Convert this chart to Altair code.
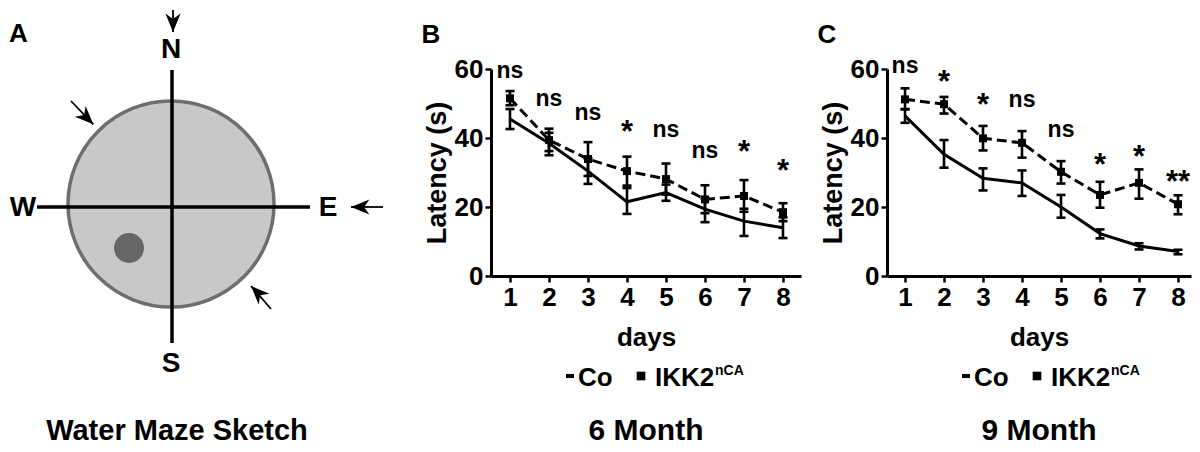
import altair as alt
import pandas as pd

FONT = "Liberation Sans"

# ---------------- data ----------------
days = [1, 2, 3, 4, 5, 6, 7, 8]

# 6 Month
co_6 = [45.5, 38.5, 30.4, 21.5, 24.2, 19.4, 15.9, 14.0]
co_6_lo = [42.6, 35.0, 26.7, 18.0, 21.8, 15.6, 11.6, 11.0]
co_6_hi = [48.4, 41.5, 34.1, 25.5, 26.5, 22.5, 19.5, 17.0]
ikk_6 = [51.5, 39.4, 33.9, 30.4, 28.1, 22.2, 23.2, 18.5]
ikk_6_lo = [49.5, 36.2, 29.0, 26.2, 23.6, 18.2, 18.6, 15.9]
ikk_6_hi = [53.6, 42.7, 38.8, 34.6, 32.6, 26.3, 27.8, 21.1]
sig_6 = ["ns", "ns", "ns", "*", "ns", "ns", "*", "*"]
sig_6_y = [59.4, 51.3, 47.2, 43.8, 42.3, 36.2, 38.0, 32.5]

# 9 Month
co_9 = [46.4, 35.3, 28.3, 27.0, 20.0, 12.3, 8.7, 7.1]
co_9_lo = [44.4, 31.4, 24.8, 23.2, 16.9, 10.9, 7.7, 6.3]
co_9_hi = [48.4, 39.4, 31.2, 30.6, 23.5, 13.5, 9.5, 7.6]
ikk_9 = [51.2, 49.8, 39.9, 38.6, 30.2, 23.5, 27.0, 20.8]
ikk_9_lo = [48.3, 47.1, 36.4, 34.3, 26.8, 19.8, 22.4, 17.9]
ikk_9_hi = [54.4, 51.9, 43.5, 42.0, 33.3, 27.3, 30.9, 23.4]
sig_9 = ["ns", "*", "*", "ns", "ns", "*", "*", "**"]
sig_9_y = [60.9, 58.3, 51.6, 51.0, 42.3, 34.2, 36.5, 29.3]

y_ticks = [0, 20, 40, 60]
series_names = ["Co", "IKK2"]
legend_super = "nCA"

# Water maze sketch (units: pool radius ~ 1)
compass_labels = ["N", "S", "W", "E"]
compass_x = [-0.01, -0.01, -1.49, 1.56]
compass_y = [1.58, -1.56, 0.0, 0.0]
cross_x = [0.0, -1.35]
cross_x2 = [0.0, 1.38]
cross_y = [1.37, 0.0]
cross_y2 = [-1.36, 0.0]
arrow_tail_x = [0.01, -1.01, 2.11, 0.99]
arrow_tail_y = [1.97, 1.06, 0.0, -1.02]
arrow_tip_x = [0.01, -0.787, 1.79, 0.79]
arrow_tip_y = [1.75, 0.827, 0.0, -0.79]
arrow_angle = [180, 135, 270, 315]
pool_x = [-0.01]
pool_y = [0.03]
platform_x = [-0.43]
platform_y = [-0.41]

# ---------------- layout constants ----------------
PLOT_H = 267     # view height of B / C (x axis at bottom)
Y_TOP = 60       # pixel where y=60 sits
TITLE_Y = 431    # baseline of the bottom titles (view pixels)
TXT = dict(font=FONT, fontWeight="bold", color="black")


def one(label):
    return alt.Chart(pd.DataFrame({"label": [label]}))


def panel(co, co_lo, co_hi, ik, ik_lo, ik_hi, sig, sig_y, letter, title, dmin, dmax, width):
    df = pd.DataFrame({
        "day": days * 2,
        "series": [series_names[0]] * 8 + [series_names[1]] * 8,
        "mean": co + ik,
        "lo": co_lo + ik_lo,
        "hi": co_hi + ik_hi,
    })
    ann = pd.DataFrame({"day": days, "label": sig, "y": sig_y})

    xs = alt.Scale(domain=[dmin, dmax], nice=False, zero=False)
    ys = alt.Scale(domain=[0, 60], range=[PLOT_H, Y_TOP], nice=False, zero=False)
    xa = alt.Axis(values=days, format="d", title="days", labelPadding=2, titlePadding=14,
                  labelFontSize=26, titleFontSize=26, labelFlush=False)
    ya = alt.Axis(values=y_ticks, format="d", title="Latency (s)", labelPadding=2, titlePadding=3,
                  labelFontSize=26, titleFontSize=27)

    def X(f="day:Q"):
        return alt.X(f, scale=xs, axis=xa)

    def Y(f):
        return alt.Y(f, scale=ys, axis=ya)

    base = alt.Chart(df)
    err = base.mark_rule(color="black", strokeWidth=2.6).encode(x=X(), y=Y("lo:Q"), y2="hi:Q")
    cap_lo = base.mark_rule(color="black", strokeWidth=2.6, xOffset=-4.5, x2Offset=4.5).encode(
        x=X(), x2="day:Q", y=Y("lo:Q"))
    cap_hi = base.mark_rule(color="black", strokeWidth=2.6, xOffset=-4.5, x2Offset=4.5).encode(
        x=X(), x2="day:Q", y=Y("hi:Q"))
    line_co = base.transform_filter(alt.datum.series == "Co").mark_line(
        color="black", strokeWidth=3).encode(x=X(), y=Y("mean:Q"))
    line_ik = base.transform_filter(alt.datum.series == "IKK2").mark_line(
        color="black", strokeWidth=3, strokeDash=[10, 5]).encode(x=X(), y=Y("mean:Q"))
    sq = base.transform_filter(alt.datum.series == "IKK2").mark_point(
        shape="square", filled=True, size=64, color="black", opacity=1).encode(x=X(), y=Y("mean:Q"))

    a = alt.Chart(ann)
    ns = a.transform_filter(alt.datum.label == "ns").mark_text(
        fontSize=23, align="center", baseline="middle", **TXT).encode(x=X(), y=Y("y:Q"), text="label:N")
    st = a.transform_filter(alt.datum.label != "ns").mark_text(
        fontSize=31, align="center", baseline="middle", dy=8, **TXT).encode(x=X(), y=Y("y:Q"), text="label:N")

    leg_dash = one("Co").mark_rule(color="black", strokeWidth=4).encode(
        x=alt.value(75), x2=alt.value(83), y=alt.value(367))
    leg_co = one(series_names[0]).mark_text(fontSize=26, align="left", baseline="alphabetic", **TXT).encode(
        text="label:N", x=alt.value(87), y=alt.value(377))
    leg_sq = one("IKK2").mark_point(shape="square", filled=True, size=75, color="black", opacity=1).encode(
        x=alt.value(150), y=alt.value(367))
    leg_ik = one(series_names[1]).mark_text(fontSize=26, align="left", baseline="alphabetic", **TXT).encode(
        text="label:N", x=alt.value(164), y=alt.value(377))
    leg_sup = one(legend_super).mark_text(fontSize=14, align="left", baseline="alphabetic", **TXT).encode(
        text="label:N", x=alt.value(224), y=alt.value(366))

    let = one(letter).mark_text(fontSize=26, align="center", baseline="alphabetic", **TXT).encode(
        text="label:N", x=alt.value(-60), y=alt.value(34))
    ttl = one(title).mark_text(fontSize=30, align="center", baseline="alphabetic", **TXT).encode(
        text="label:N", x=alt.value(width / 2), y=alt.value(TITLE_Y))

    return alt.layer(err, cap_lo, cap_hi, line_co, line_ik, sq, ns, st,
                     leg_dash, leg_co, leg_sq, leg_ik, leg_sup, let, ttl).properties(
        width=width, height=PLOT_H)


# ---------------- panel A: water maze sketch ----------------
ax = alt.Scale(domain=[-1.63, 2.33], nice=False, zero=False)
ay = alt.Scale(domain=[-2.22, 1.98], nice=False, zero=False)


def AX(f):
    return alt.X(f, scale=ax, axis=None)


def AY(f):
    return alt.Y(f, scale=ay, axis=None)


pool = alt.Chart(pd.DataFrame({"x": pool_x, "y": pool_y})).mark_point(
    shape="circle", filled=True, fill="#c8c8c8", stroke="#6e6e6e", strokeWidth=3.5,
    size=206 * 206, opacity=1).encode(x=AX("x:Q"), y=AY("y:Q"))
platform = alt.Chart(pd.DataFrame({"x": platform_x, "y": platform_y})).mark_point(
    shape="circle", filled=True, color="#666666", size=900, opacity=1).encode(x=AX("x:Q"), y=AY("y:Q"))
cross = alt.Chart(pd.DataFrame({"x": cross_x, "x2": cross_x2, "y": cross_y, "y2": cross_y2})).mark_rule(
    color="black", strokeWidth=3.5).encode(x=AX("x:Q"), x2="x2:Q", y=AY("y:Q"), y2="y2:Q")
shafts = alt.Chart(pd.DataFrame({"x": arrow_tail_x, "x2": arrow_tip_x, "y": arrow_tail_y, "y2": arrow_tip_y})).mark_rule(
    color="black", strokeWidth=1.8).encode(x=AX("x:Q"), x2="x2:Q", y=AY("y:Q"), y2="y2:Q")
heads = alt.Chart(pd.DataFrame({"x": arrow_tip_x, "y": arrow_tip_y, "a": arrow_angle})).mark_point(
    shape="M0,0L0.7,1.7L0,1.2L-0.7,1.7Z", filled=True, color="black", size=470, opacity=1).encode(
    x=AX("x:Q"), y=AY("y:Q"), angle=alt.Angle("a:Q", scale=None))
compass = alt.Chart(pd.DataFrame({"label": compass_labels, "x": compass_x, "y": compass_y})).mark_text(
    fontSize=28, align="center", baseline="middle", dy=1, **TXT).encode(
    x=AX("x:Q"), y=AY("y:Q"), text="label:N")
a_letter = one("A").mark_text(fontSize=26, align="left", baseline="alphabetic", **TXT).encode(
    text="label:N", x=alt.value(0), y=alt.value(33))
a_title = one("Water Maze Sketch").mark_text(fontSize=29, align="center", baseline="alphabetic", **TXT).encode(
    text="label:N", x=alt.value(168), y=alt.value(TITLE_Y))

panel_a = alt.layer(pool, cross, platform, shafts, heads, compass, a_letter, a_title).properties(
    width=396, height=420)

panel_b = panel(co_6, co_6_lo, co_6_hi, ikk_6, ikk_6_lo, ikk_6_hi, sig_6, sig_6_y,
                "B", "6 Month", 0.513, 8.462, 310)
panel_c = panel(co_9, co_9_lo, co_9_hi, ikk_9, ikk_9_lo, ikk_9_hi, sig_9, sig_9_y,
                "C", "9 Month", 0.538, 8.333, 304)

chart = alt.hconcat(panel_a, panel_b, panel_c, spacing=86, bounds="flush").properties(
    padding=0, background="white"
).configure_view(stroke="transparent").configure_axis(
    domainColor="black", domainWidth=3, tickColor="black", tickWidth=2.5, tickSize=6,
    labelColor="black", titleColor="black", labelFont=FONT, titleFont=FONT,
    labelFontWeight="bold", titleFontWeight="bold", grid=False,
)

chart.save("out.html", embed_options={"renderer": "svg", "actions": False})
